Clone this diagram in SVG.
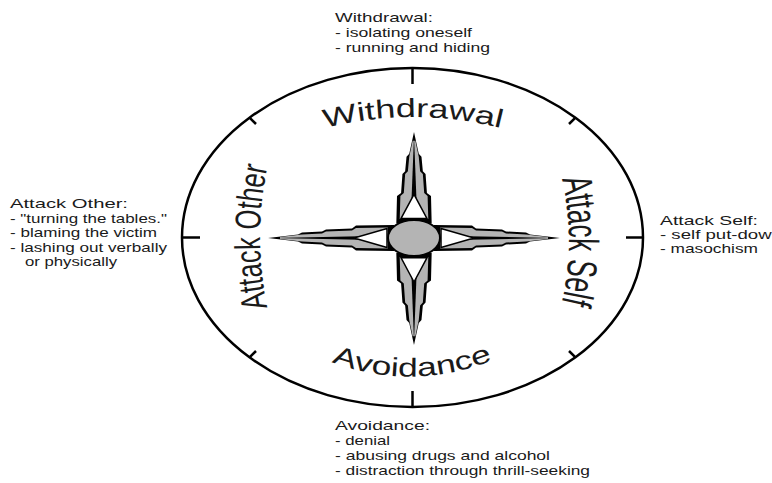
<svg xmlns="http://www.w3.org/2000/svg" xmlns:xlink="http://www.w3.org/1999/xlink" width="772" height="483" viewBox="0 0 772 483">
<style>
  .lbl { font-family: "Liberation Sans", Arial, sans-serif; font-size: 13px; fill: #1a1a1a; }
  .arc { font-family: "Liberation Sans", Arial, sans-serif; fill: #1a1a1a; }
  .line { stroke: #000; stroke-width: 2.5; fill: none; }
</style>
<defs>
  <g id="arm">
    <path fill="#000" d="M20,-13 L58,-12.5 L62,-9.5 L88,-8.5 L92,-6.5 L112,-5.5 L116,-3.5 L146,0 L116,3.5 L112,5.5 L92,6.5 L88,8.5 L62,9.5 L58,12.5 L20,13 Z"/>
    <path fill="#b4b4b4" d="M26,-10.5 L58,-10 L62,-7.5 L88,-6.5 L92,-4.5 L112,-3.5 L134,-1 L134,1 L112,3.5 L92,4.5 L88,6.5 L62,7.5 L58,10 L26,10.5 Z"/>
    <path fill="#000" d="M54,-1.8 L141,0 L54,1.8 Z"/>
    <path fill="#fff" stroke="#000" stroke-width="1.5" vector-effect="non-scaling-stroke" d="M27,-9.5 L60,0 L27,9.5 Z"/>
  </g>
  <path id="pW" d="M318,130 Q413,104 508,130"/>
  <path id="pA" d="M326,360 Q412,394 498,358"/>
  <path id="pO" d="M268,310 Q252,237 268,164"/>
  <path id="pS" d="M561,176 Q577,241 561,306"/>
</defs>

<g id="compass-ring">
  <ellipse class="line" cx="412.5" cy="237.5" rx="230.5" ry="169.5"/>
</g>

<g id="connectors">
  <path class="line" d="M412.5,68 V84"/>
  <path class="line" d="M412.5,407 V391"/>
  <path class="line" d="M182,237.5 H200"/>
  <path class="line" d="M643,237.5 H626"/>
  <path class="line" d="M249.5,117.6 L256,124"/>
  <path class="line" d="M575.5,117.6 L569,124"/>
  <path class="line" d="M249.5,357.4 L256,351"/>
  <path class="line" d="M575.5,357.4 L569,351"/>
</g>

<g id="star">
  <use xlink:href="#arm" transform="translate(414,238)"/>
  <use xlink:href="#arm" transform="translate(414,238) rotate(180)"/>
  <use xlink:href="#arm" transform="translate(414,238) rotate(-90) scale(0.726,1.36)"/>
  <use xlink:href="#arm" transform="translate(414,238) rotate(90) scale(0.733,1.36)"/>
  <ellipse cx="414" cy="238" rx="26" ry="18" fill="#b4b4b4" stroke="#000" stroke-width="2"/>
</g>

<g id="label-withdrawal">
  <text class="arc" font-size="26"><textPath xlink:href="#pW" startOffset="50%" text-anchor="middle" textLength="178" lengthAdjust="spacingAndGlyphs">Withdrawal</textPath></text>
</g>
<g id="label-avoidance">
  <text class="arc" font-size="26"><textPath xlink:href="#pA" startOffset="50%" text-anchor="middle" textLength="165" lengthAdjust="spacingAndGlyphs">Avoidance</textPath></text>
</g>
<g id="label-attack-other">
  <text class="arc" font-size="36"><textPath xlink:href="#pO" startOffset="50%" text-anchor="middle" textLength="142" lengthAdjust="spacingAndGlyphs">Attack Other</textPath></text>
</g>
<g id="label-attack-self">
  <text class="arc" font-size="42"><textPath xlink:href="#pS" startOffset="50%" text-anchor="middle" textLength="125" lengthAdjust="spacingAndGlyphs">Attack Self</textPath></text>
</g>

<g id="note-withdrawal">
  <text class="lbl" x="335" y="22" textLength="98" lengthAdjust="spacingAndGlyphs">Withdrawal:</text>
  <text class="lbl" x="335" y="37" textLength="137" lengthAdjust="spacingAndGlyphs">- isolating oneself</text>
  <text class="lbl" x="335" y="52" textLength="155" lengthAdjust="spacingAndGlyphs">- running and hiding</text>
</g>
<g id="note-attack-other">
  <text class="lbl" x="10" y="208" textLength="118" lengthAdjust="spacingAndGlyphs">Attack Other:</text>
  <text class="lbl" x="10" y="223" textLength="157" lengthAdjust="spacingAndGlyphs">- "turning the tables."</text>
  <text class="lbl" x="10" y="237" textLength="147" lengthAdjust="spacingAndGlyphs">- blaming the victim</text>
  <text class="lbl" x="10" y="252" textLength="157" lengthAdjust="spacingAndGlyphs">- lashing out verbally</text>
  <text class="lbl" x="25" y="266" textLength="92" lengthAdjust="spacingAndGlyphs">or physically</text>
</g>
<g id="note-attack-self">
  <text class="lbl" x="660" y="225" textLength="98" lengthAdjust="spacingAndGlyphs">Attack Self:</text>
  <text class="lbl" x="660" y="239" textLength="122" lengthAdjust="spacingAndGlyphs">- self put-down</text>
  <text class="lbl" x="660" y="253" textLength="98" lengthAdjust="spacingAndGlyphs">- masochism</text>
</g>
<g id="note-avoidance">
  <text class="lbl" x="335" y="430" textLength="95" lengthAdjust="spacingAndGlyphs">Avoidance:</text>
  <text class="lbl" x="335" y="445" textLength="55" lengthAdjust="spacingAndGlyphs">- denial</text>
  <text class="lbl" x="335" y="460" textLength="215" lengthAdjust="spacingAndGlyphs">- abusing drugs and alcohol</text>
  <text class="lbl" x="335" y="475" textLength="255" lengthAdjust="spacingAndGlyphs">- distraction through thrill-seeking</text>
</g>
</svg>
